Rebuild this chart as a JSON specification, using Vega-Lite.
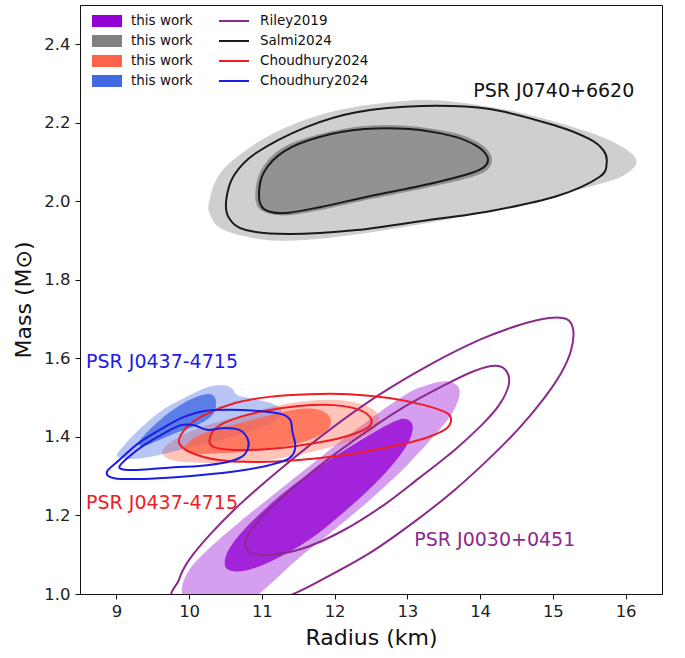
{
  "$schema": "https://vega.github.io/schema/vega-lite/v6.json",
  "width": 582,
  "height": 589,
  "autosize": {"type": "none"},
  "padding": {"left": 80, "top": 5, "right": 23, "bottom": 64},
  "background": "white",
  "config": {
    "font": "DejaVu Sans",
    "view": {"stroke": "#111", "strokeWidth": 1},
    "axis": {"grid": false, "domainColor": "#111", "tickColor": "#111", "labelColor": "#222", "titleColor": "#111", "labelFont": "DejaVu Sans", "titleFont": "DejaVu Sans", "titleFontWeight": "normal", "labelFontSize": 16.5, "titleFontSize": 22, "tickSize": 5},
    "legend": {"labelFont": "DejaVu Sans", "labelFontSize": 13.5, "labelColor": "#111", "padding": 0, "rowPadding": 0}
  },
  "datasets": {
    "fills": [
      {"set":"J0030","lvl":2,"i":0,"x":13.51,"y":1.542},{"set":"J0030","lvl":2,"i":1,"x":13.69,"y":1.530},{"set":"J0030","lvl":2,"i":2,"x":13.71,"y":1.502},{"set":"J0030","lvl":2,"i":3,"x":13.60,"y":1.456},{"set":"J0030","lvl":2,"i":4,"x":13.34,"y":1.397},{"set":"J0030","lvl":2,"i":5,"x":12.96,"y":1.321},{"set":"J0030","lvl":2,"i":6,"x":12.48,"y":1.239},{"set":"J0030","lvl":2,"i":7,"x":11.99,"y":1.163},{"set":"J0030","lvl":2,"i":8,"x":11.51,"y":1.092},{"set":"J0030","lvl":2,"i":9,"x":11.10,"y":1.023},{"set":"J0030","lvl":2,"i":10,"x":10.83,"y":0.985},{"set":"J0030","lvl":2,"i":11,"x":10.34,"y":0.959},{"set":"J0030","lvl":2,"i":12,"x":10.00,"y":0.972},{"set":"J0030","lvl":2,"i":13,"x":9.90,"y":1.010},{"set":"J0030","lvl":2,"i":14,"x":10.00,"y":1.061},{"set":"J0030","lvl":2,"i":15,"x":10.28,"y":1.117},{"set":"J0030","lvl":2,"i":16,"x":10.69,"y":1.183},{"set":"J0030","lvl":2,"i":17,"x":11.24,"y":1.265},{"set":"J0030","lvl":2,"i":18,"x":11.79,"y":1.346},{"set":"J0030","lvl":2,"i":19,"x":12.34,"y":1.425},{"set":"J0030","lvl":2,"i":20,"x":12.82,"y":1.489},{"set":"J0030","lvl":2,"i":21,"x":13.16,"y":1.525},
      {"set":"J0030","lvl":1,"i":0,"x":12.96,"y":1.446},{"set":"J0030","lvl":1,"i":1,"x":13.07,"y":1.430},{"set":"J0030","lvl":1,"i":2,"x":13.03,"y":1.392},{"set":"J0030","lvl":1,"i":3,"x":12.85,"y":1.341},{"set":"J0030","lvl":1,"i":4,"x":12.54,"y":1.278},{"set":"J0030","lvl":1,"i":5,"x":12.13,"y":1.209},{"set":"J0030","lvl":1,"i":6,"x":11.65,"y":1.138},{"set":"J0030","lvl":1,"i":7,"x":11.17,"y":1.087},{"set":"J0030","lvl":1,"i":8,"x":10.76,"y":1.059},{"set":"J0030","lvl":1,"i":9,"x":10.52,"y":1.064},{"set":"J0030","lvl":1,"i":10,"x":10.51,"y":1.099},{"set":"J0030","lvl":1,"i":11,"x":10.69,"y":1.150},{"set":"J0030","lvl":1,"i":12,"x":11.03,"y":1.214},{"set":"J0030","lvl":1,"i":13,"x":11.44,"y":1.278},{"set":"J0030","lvl":1,"i":14,"x":11.93,"y":1.341},{"set":"J0030","lvl":1,"i":15,"x":12.41,"y":1.397},{"set":"J0030","lvl":1,"i":16,"x":12.75,"y":1.433},
      {"set":"J0740","lvl":2,"i":0,"x":10.28,"y":2.003},{"set":"J0740","lvl":2,"i":1,"x":10.44,"y":2.075},{"set":"J0740","lvl":2,"i":2,"x":10.92,"y":2.148},{"set":"J0740","lvl":2,"i":3,"x":11.51,"y":2.202},{"set":"J0740","lvl":2,"i":4,"x":12.20,"y":2.238},{"set":"J0740","lvl":2,"i":5,"x":13.20,"y":2.258},{"set":"J0740","lvl":2,"i":6,"x":13.99,"y":2.245},{"set":"J0740","lvl":2,"i":7,"x":14.68,"y":2.220},{"set":"J0740","lvl":2,"i":8,"x":15.50,"y":2.176},{"set":"J0740","lvl":2,"i":9,"x":15.98,"y":2.136},{"set":"J0740","lvl":2,"i":10,"x":16.15,"y":2.100},{"set":"J0740","lvl":2,"i":11,"x":15.98,"y":2.067},{"set":"J0740","lvl":2,"i":12,"x":15.64,"y":2.044},{"set":"J0740","lvl":2,"i":13,"x":14.58,"y":1.993},{"set":"J0740","lvl":2,"i":14,"x":13.20,"y":1.942},{"set":"J0740","lvl":2,"i":15,"x":11.93,"y":1.907},{"set":"J0740","lvl":2,"i":16,"x":11.10,"y":1.901},{"set":"J0740","lvl":2,"i":17,"x":10.48,"y":1.927},{"set":"J0740","lvl":2,"i":18,"x":10.29,"y":1.965},
      {"set":"J0740","lvl":1,"i":0,"x":10.91,"y":2.016},{"set":"J0740","lvl":1,"i":1,"x":10.99,"y":2.080},{"set":"J0740","lvl":1,"i":2,"x":11.28,"y":2.136},{"set":"J0740","lvl":1,"i":3,"x":11.79,"y":2.171},{"set":"J0740","lvl":1,"i":4,"x":12.41,"y":2.192},{"set":"J0740","lvl":1,"i":5,"x":13.03,"y":2.192},{"set":"J0740","lvl":1,"i":6,"x":13.65,"y":2.174},{"set":"J0740","lvl":1,"i":7,"x":13.99,"y":2.148},{"set":"J0740","lvl":1,"i":8,"x":14.15,"y":2.118},{"set":"J0740","lvl":1,"i":9,"x":14.13,"y":2.087},{"set":"J0740","lvl":1,"i":10,"x":13.92,"y":2.064},{"set":"J0740","lvl":1,"i":11,"x":13.30,"y":2.036},{"set":"J0740","lvl":1,"i":12,"x":12.48,"y":2.005},{"set":"J0740","lvl":1,"i":13,"x":11.79,"y":1.977},{"set":"J0740","lvl":1,"i":14,"x":11.31,"y":1.964},{"set":"J0740","lvl":1,"i":15,"x":10.99,"y":1.977},
      {"set":"J0437r","lvl":2,"i":0,"x":9.63,"y":1.362},{"set":"J0437r","lvl":2,"i":1,"x":9.79,"y":1.392},{"set":"J0437r","lvl":2,"i":2,"x":10.14,"y":1.423},{"set":"J0437r","lvl":2,"i":3,"x":10.69,"y":1.453},{"set":"J0437r","lvl":2,"i":4,"x":11.24,"y":1.481},{"set":"J0437r","lvl":2,"i":5,"x":11.79,"y":1.494},{"set":"J0437r","lvl":2,"i":6,"x":12.20,"y":1.491},{"set":"J0437r","lvl":2,"i":7,"x":12.50,"y":1.474},{"set":"J0437r","lvl":2,"i":8,"x":12.61,"y":1.448},{"set":"J0437r","lvl":2,"i":9,"x":12.54,"y":1.418},{"set":"J0437r","lvl":2,"i":10,"x":12.27,"y":1.392},{"set":"J0437r","lvl":2,"i":11,"x":11.79,"y":1.367},{"set":"J0437r","lvl":2,"i":12,"x":11.24,"y":1.346},{"set":"J0437r","lvl":2,"i":13,"x":10.69,"y":1.334},{"set":"J0437r","lvl":2,"i":14,"x":10.14,"y":1.334},{"set":"J0437r","lvl":2,"i":15,"x":9.77,"y":1.341},
      {"set":"J0437r","lvl":1,"i":0,"x":9.93,"y":1.372},{"set":"J0437r","lvl":1,"i":1,"x":10.07,"y":1.397},{"set":"J0437r","lvl":1,"i":2,"x":10.34,"y":1.418},{"set":"J0437r","lvl":1,"i":3,"x":10.76,"y":1.438},{"set":"J0437r","lvl":1,"i":4,"x":11.17,"y":1.458},{"set":"J0437r","lvl":1,"i":5,"x":11.51,"y":1.471},{"set":"J0437r","lvl":1,"i":6,"x":11.79,"y":1.469},{"set":"J0437r","lvl":1,"i":7,"x":11.94,"y":1.448},{"set":"J0437r","lvl":1,"i":8,"x":11.90,"y":1.418},{"set":"J0437r","lvl":1,"i":9,"x":11.65,"y":1.392},{"set":"J0437r","lvl":1,"i":10,"x":11.24,"y":1.374},{"set":"J0437r","lvl":1,"i":11,"x":10.76,"y":1.362},{"set":"J0437r","lvl":1,"i":12,"x":10.28,"y":1.357},{"set":"J0437r","lvl":1,"i":13,"x":10.00,"y":1.359},
      {"set":"J0437b","lvl":2,"i":0,"x":9.01,"y":1.351},{"set":"J0437b","lvl":2,"i":1,"x":9.11,"y":1.379},{"set":"J0437b","lvl":2,"i":2,"x":9.31,"y":1.418},{"set":"J0437b","lvl":2,"i":3,"x":9.59,"y":1.463},{"set":"J0437b","lvl":2,"i":4,"x":9.93,"y":1.499},{"set":"J0437b","lvl":2,"i":5,"x":10.23,"y":1.525},{"set":"J0437b","lvl":2,"i":6,"x":10.44,"y":1.532},{"set":"J0437b","lvl":2,"i":7,"x":10.58,"y":1.525},{"set":"J0437b","lvl":2,"i":8,"x":10.66,"y":1.507},{"set":"J0437b","lvl":2,"i":9,"x":10.89,"y":1.497},{"set":"J0437b","lvl":2,"i":10,"x":11.13,"y":1.486},{"set":"J0437b","lvl":2,"i":11,"x":11.27,"y":1.469},{"set":"J0437b","lvl":2,"i":12,"x":11.21,"y":1.443},{"set":"J0437b","lvl":2,"i":13,"x":10.96,"y":1.423},{"set":"J0437b","lvl":2,"i":14,"x":10.62,"y":1.402},{"set":"J0437b","lvl":2,"i":15,"x":10.28,"y":1.385},{"set":"J0437b","lvl":2,"i":16,"x":9.93,"y":1.369},{"set":"J0437b","lvl":2,"i":17,"x":9.59,"y":1.354},{"set":"J0437b","lvl":2,"i":18,"x":9.24,"y":1.344},
      {"set":"J0437b","lvl":1,"i":0,"x":9.31,"y":1.387},{"set":"J0437b","lvl":1,"i":1,"x":9.48,"y":1.423},{"set":"J0437b","lvl":1,"i":2,"x":9.72,"y":1.461},{"set":"J0437b","lvl":1,"i":3,"x":10.00,"y":1.494},{"set":"J0437b","lvl":1,"i":4,"x":10.23,"y":1.509},{"set":"J0437b","lvl":1,"i":5,"x":10.34,"y":1.504},{"set":"J0437b","lvl":1,"i":6,"x":10.37,"y":1.481},{"set":"J0437b","lvl":1,"i":7,"x":10.32,"y":1.456},{"set":"J0437b","lvl":1,"i":8,"x":10.14,"y":1.433},{"set":"J0437b","lvl":1,"i":9,"x":9.86,"y":1.413},{"set":"J0437b","lvl":1,"i":10,"x":9.59,"y":1.392},{"set":"J0437b","lvl":1,"i":11,"x":9.38,"y":1.377}
    ],
    "refs": [
      {"ref":"Riley2019","lvl":2,"i":0,"x":9.835,"y":0.985},{"ref":"Riley2019","lvl":2,"i":1,"x":9.86,"y":1.036},{"ref":"Riley2019","lvl":2,"i":2,"x":10.00,"y":1.087},{"ref":"Riley2019","lvl":2,"i":3,"x":10.28,"y":1.150},{"ref":"Riley2019","lvl":2,"i":4,"x":10.69,"y":1.227},{"ref":"Riley2019","lvl":2,"i":5,"x":11.24,"y":1.316},{"ref":"Riley2019","lvl":2,"i":6,"x":11.93,"y":1.418},{"ref":"Riley2019","lvl":2,"i":7,"x":12.61,"y":1.507},{"ref":"Riley2019","lvl":2,"i":8,"x":13.30,"y":1.583},{"ref":"Riley2019","lvl":2,"i":9,"x":13.99,"y":1.647},{"ref":"Riley2019","lvl":2,"i":10,"x":14.54,"y":1.685},{"ref":"Riley2019","lvl":2,"i":11,"x":14.95,"y":1.703},{"ref":"Riley2019","lvl":2,"i":12,"x":15.19,"y":1.700},{"ref":"Riley2019","lvl":2,"i":13,"x":15.28,"y":1.672},{"ref":"Riley2019","lvl":2,"i":14,"x":15.25,"y":1.621},{"ref":"Riley2019","lvl":2,"i":15,"x":15.12,"y":1.565},{"ref":"Riley2019","lvl":2,"i":16,"x":14.88,"y":1.499},{"ref":"Riley2019","lvl":2,"i":17,"x":14.54,"y":1.423},{"ref":"Riley2019","lvl":2,"i":18,"x":14.13,"y":1.346},{"ref":"Riley2019","lvl":2,"i":19,"x":13.65,"y":1.265},{"ref":"Riley2019","lvl":2,"i":20,"x":13.09,"y":1.183},{"ref":"Riley2019","lvl":2,"i":21,"x":12.48,"y":1.104},{"ref":"Riley2019","lvl":2,"i":22,"x":11.79,"y":1.033},{"ref":"Riley2019","lvl":2,"i":23,"x":11.31,"y":0.990},{"ref":"Riley2019","lvl":2,"i":24,"x":10.96,"y":0.972},
      {"ref":"Riley2019","lvl":1,"i":0,"x":14.22,"y":1.581},{"ref":"Riley2019","lvl":1,"i":1,"x":14.37,"y":1.565},{"ref":"Riley2019","lvl":1,"i":2,"x":14.39,"y":1.530},{"ref":"Riley2019","lvl":1,"i":3,"x":14.26,"y":1.481},{"ref":"Riley2019","lvl":1,"i":4,"x":14.02,"y":1.430},{"ref":"Riley2019","lvl":1,"i":5,"x":13.65,"y":1.367},{"ref":"Riley2019","lvl":1,"i":6,"x":13.16,"y":1.295},{"ref":"Riley2019","lvl":1,"i":7,"x":12.68,"y":1.227},{"ref":"Riley2019","lvl":1,"i":8,"x":12.13,"y":1.163},{"ref":"Riley2019","lvl":1,"i":9,"x":11.58,"y":1.117},{"ref":"Riley2019","lvl":1,"i":10,"x":11.10,"y":1.099},{"ref":"Riley2019","lvl":1,"i":11,"x":10.83,"y":1.107},{"ref":"Riley2019","lvl":1,"i":12,"x":10.78,"y":1.138},{"ref":"Riley2019","lvl":1,"i":13,"x":10.94,"y":1.183},{"ref":"Riley2019","lvl":1,"i":14,"x":11.24,"y":1.239},{"ref":"Riley2019","lvl":1,"i":15,"x":11.72,"y":1.316},{"ref":"Riley2019","lvl":1,"i":16,"x":12.27,"y":1.392},{"ref":"Riley2019","lvl":1,"i":17,"x":12.89,"y":1.469},{"ref":"Riley2019","lvl":1,"i":18,"x":13.51,"y":1.532},{"ref":"Riley2019","lvl":1,"i":19,"x":13.92,"y":1.568},
      {"ref":"Salmi2024","lvl":2,"i":0,"x":10.51,"y":2.003},{"ref":"Salmi2024","lvl":2,"i":1,"x":10.62,"y":2.067},{"ref":"Salmi2024","lvl":2,"i":2,"x":10.92,"y":2.123},{"ref":"Salmi2024","lvl":2,"i":3,"x":11.61,"y":2.189},{"ref":"Salmi2024","lvl":2,"i":4,"x":12.30,"y":2.227},{"ref":"Salmi2024","lvl":2,"i":5,"x":13.20,"y":2.243},{"ref":"Salmi2024","lvl":2,"i":6,"x":14.13,"y":2.235},{"ref":"Salmi2024","lvl":2,"i":7,"x":15.05,"y":2.192},{"ref":"Salmi2024","lvl":2,"i":8,"x":15.50,"y":2.159},{"ref":"Salmi2024","lvl":2,"i":9,"x":15.69,"y":2.131},{"ref":"Salmi2024","lvl":2,"i":10,"x":15.74,"y":2.100},{"ref":"Salmi2024","lvl":2,"i":11,"x":15.64,"y":2.062},{"ref":"Salmi2024","lvl":2,"i":12,"x":15.05,"y":2.013},{"ref":"Salmi2024","lvl":2,"i":13,"x":14.13,"y":1.975},{"ref":"Salmi2024","lvl":2,"i":14,"x":13.20,"y":1.950},{"ref":"Salmi2024","lvl":2,"i":15,"x":12.30,"y":1.927},{"ref":"Salmi2024","lvl":2,"i":16,"x":11.38,"y":1.917},{"ref":"Salmi2024","lvl":2,"i":17,"x":10.78,"y":1.927},{"ref":"Salmi2024","lvl":2,"i":18,"x":10.55,"y":1.957},
      {"ref":"Salmi2024","lvl":1,"i":0,"x":10.96,"y":2.016},{"ref":"Salmi2024","lvl":1,"i":1,"x":11.03,"y":2.075},{"ref":"Salmi2024","lvl":1,"i":2,"x":11.31,"y":2.128},{"ref":"Salmi2024","lvl":1,"i":3,"x":11.79,"y":2.164},{"ref":"Salmi2024","lvl":1,"i":4,"x":12.41,"y":2.184},{"ref":"Salmi2024","lvl":1,"i":5,"x":13.03,"y":2.184},{"ref":"Salmi2024","lvl":1,"i":6,"x":13.62,"y":2.166},{"ref":"Salmi2024","lvl":1,"i":7,"x":13.95,"y":2.141},{"ref":"Salmi2024","lvl":1,"i":8,"x":14.10,"y":2.113},{"ref":"Salmi2024","lvl":1,"i":9,"x":14.07,"y":2.090},{"ref":"Salmi2024","lvl":1,"i":10,"x":13.88,"y":2.072},{"ref":"Salmi2024","lvl":1,"i":11,"x":13.30,"y":2.044},{"ref":"Salmi2024","lvl":1,"i":12,"x":12.48,"y":2.013},{"ref":"Salmi2024","lvl":1,"i":13,"x":11.79,"y":1.985},{"ref":"Salmi2024","lvl":1,"i":14,"x":11.31,"y":1.970},{"ref":"Salmi2024","lvl":1,"i":15,"x":11.03,"y":1.980},
      {"ref":"Choudhury2024 red","lvl":2,"i":0,"x":9.862,"y":1.385},{"ref":"Choudhury2024 red","lvl":2,"i":1,"x":9.96,"y":1.423},{"ref":"Choudhury2024 red","lvl":2,"i":2,"x":10.21,"y":1.456},{"ref":"Choudhury2024 red","lvl":2,"i":3,"x":10.62,"y":1.486},{"ref":"Choudhury2024 red","lvl":2,"i":4,"x":11.10,"y":1.502},{"ref":"Choudhury2024 red","lvl":2,"i":5,"x":11.65,"y":1.509},{"ref":"Choudhury2024 red","lvl":2,"i":6,"x":12.20,"y":1.509},{"ref":"Choudhury2024 red","lvl":2,"i":7,"x":12.75,"y":1.499},{"ref":"Choudhury2024 red","lvl":2,"i":8,"x":13.23,"y":1.481},{"ref":"Choudhury2024 red","lvl":2,"i":9,"x":13.54,"y":1.461},{"ref":"Choudhury2024 red","lvl":2,"i":10,"x":13.60,"y":1.441},{"ref":"Choudhury2024 red","lvl":2,"i":11,"x":13.51,"y":1.418},{"ref":"Choudhury2024 red","lvl":2,"i":12,"x":13.16,"y":1.392},{"ref":"Choudhury2024 red","lvl":2,"i":13,"x":12.68,"y":1.372},{"ref":"Choudhury2024 red","lvl":2,"i":14,"x":12.13,"y":1.354},{"ref":"Choudhury2024 red","lvl":2,"i":15,"x":11.51,"y":1.341},{"ref":"Choudhury2024 red","lvl":2,"i":16,"x":10.96,"y":1.336},{"ref":"Choudhury2024 red","lvl":2,"i":17,"x":10.41,"y":1.341},{"ref":"Choudhury2024 red","lvl":2,"i":18,"x":10.04,"y":1.359},
      {"ref":"Choudhury2024 red","lvl":1,"i":0,"x":10.28,"y":1.392},{"ref":"Choudhury2024 red","lvl":1,"i":1,"x":10.37,"y":1.423},{"ref":"Choudhury2024 red","lvl":1,"i":2,"x":10.62,"y":1.446},{"ref":"Choudhury2024 red","lvl":1,"i":3,"x":11.03,"y":1.466},{"ref":"Choudhury2024 red","lvl":1,"i":4,"x":11.51,"y":1.479},{"ref":"Choudhury2024 red","lvl":1,"i":5,"x":11.99,"y":1.481},{"ref":"Choudhury2024 red","lvl":1,"i":6,"x":12.34,"y":1.469},{"ref":"Choudhury2024 red","lvl":1,"i":7,"x":12.50,"y":1.446},{"ref":"Choudhury2024 red","lvl":1,"i":8,"x":12.45,"y":1.423},{"ref":"Choudhury2024 red","lvl":1,"i":9,"x":12.13,"y":1.400},{"ref":"Choudhury2024 red","lvl":1,"i":10,"x":11.65,"y":1.382},{"ref":"Choudhury2024 red","lvl":1,"i":11,"x":11.10,"y":1.369},{"ref":"Choudhury2024 red","lvl":1,"i":12,"x":10.62,"y":1.367},{"ref":"Choudhury2024 red","lvl":1,"i":13,"x":10.34,"y":1.374},
      {"ref":"Choudhury2024 blue","lvl":2,"i":0,"x":8.87,"y":1.311},{"ref":"Choudhury2024 blue","lvl":2,"i":1,"x":9.04,"y":1.341},{"ref":"Choudhury2024 blue","lvl":2,"i":2,"x":9.31,"y":1.385},{"ref":"Choudhury2024 blue","lvl":2,"i":3,"x":9.66,"y":1.425},{"ref":"Choudhury2024 blue","lvl":2,"i":4,"x":9.93,"y":1.451},{"ref":"Choudhury2024 blue","lvl":2,"i":5,"x":10.21,"y":1.466},{"ref":"Choudhury2024 blue","lvl":2,"i":6,"x":10.55,"y":1.469},{"ref":"Choudhury2024 blue","lvl":2,"i":7,"x":10.96,"y":1.466},{"ref":"Choudhury2024 blue","lvl":2,"i":8,"x":11.27,"y":1.458},{"ref":"Choudhury2024 blue","lvl":2,"i":9,"x":11.39,"y":1.443},{"ref":"Choudhury2024 blue","lvl":2,"i":10,"x":11.42,"y":1.413},{"ref":"Choudhury2024 blue","lvl":2,"i":11,"x":11.46,"y":1.374},{"ref":"Choudhury2024 blue","lvl":2,"i":12,"x":11.38,"y":1.346},{"ref":"Choudhury2024 blue","lvl":2,"i":13,"x":11.10,"y":1.328},{"ref":"Choudhury2024 blue","lvl":2,"i":14,"x":10.76,"y":1.316},{"ref":"Choudhury2024 blue","lvl":2,"i":15,"x":10.34,"y":1.306},{"ref":"Choudhury2024 blue","lvl":2,"i":16,"x":9.86,"y":1.298},{"ref":"Choudhury2024 blue","lvl":2,"i":17,"x":9.38,"y":1.293},{"ref":"Choudhury2024 blue","lvl":2,"i":18,"x":8.97,"y":1.295},
      {"ref":"Choudhury2024 blue","lvl":1,"i":0,"x":9.04,"y":1.323},{"ref":"Choudhury2024 blue","lvl":1,"i":1,"x":9.17,"y":1.349},{"ref":"Choudhury2024 blue","lvl":1,"i":2,"x":9.38,"y":1.379},{"ref":"Choudhury2024 blue","lvl":1,"i":3,"x":9.66,"y":1.410},{"ref":"Choudhury2024 blue","lvl":1,"i":4,"x":9.89,"y":1.430},{"ref":"Choudhury2024 blue","lvl":1,"i":5,"x":10.07,"y":1.430},{"ref":"Choudhury2024 blue","lvl":1,"i":6,"x":10.25,"y":1.418},{"ref":"Choudhury2024 blue","lvl":1,"i":7,"x":10.48,"y":1.423},{"ref":"Choudhury2024 blue","lvl":1,"i":8,"x":10.69,"y":1.418},{"ref":"Choudhury2024 blue","lvl":1,"i":9,"x":10.80,"y":1.397},{"ref":"Choudhury2024 blue","lvl":1,"i":10,"x":10.81,"y":1.372},{"ref":"Choudhury2024 blue","lvl":1,"i":11,"x":10.72,"y":1.349},{"ref":"Choudhury2024 blue","lvl":1,"i":12,"x":10.48,"y":1.334},{"ref":"Choudhury2024 blue","lvl":1,"i":13,"x":10.14,"y":1.326},{"ref":"Choudhury2024 blue","lvl":1,"i":14,"x":9.79,"y":1.323},{"ref":"Choudhury2024 blue","lvl":1,"i":15,"x":9.45,"y":1.318},{"ref":"Choudhury2024 blue","lvl":1,"i":16,"x":9.17,"y":1.316}
    ],
    "labels": [
      {"key":"a","label":"PSR J0740+6620","x":13.906,"y":2.282},
      {"key":"b","label":"PSR J0437-4715","x":8.583,"y":1.592},
      {"key":"c","label":"PSR J0437-4715","x":8.583,"y":1.232},
      {"key":"d","label":"PSR J0030+0451","x":13.095,"y":1.1375}
    ]
  },
  "encoding": {
    "x": {"field": "x", "type": "quantitative", "scale": {"domain": [8.5, 16.5], "nice": false, "zero": false}, "axis": {"title": "Radius (km)", "values": [9,10,11,12,13,14,15,16], "labelPadding": 4, "titlePadding": 8}},
    "y": {"field": "y", "type": "quantitative", "scale": {"domain": [1.0, 2.5], "nice": false, "zero": false}, "axis": {"title": "Mass (M⊙)", "values": [1.0,1.2,1.4,1.6,1.8,2.0,2.2,2.4], "format": ".1f", "labelPadding": 5, "titlePadding": 8}}
  },
  "layer": [
    {
      "data": {"name": "fills"},
      "transform": [{"filter": "datum.lvl == 2"}],
      "mark": {"type": "line", "interpolate": "cardinal-closed", "fillOpacity": 0.38, "strokeWidth": 0, "clip": true},
      "encoding": {
        "fill": {"field": "set", "type": "nominal", "scale": {"domain": ["J0030","J0740","J0437r","J0437b"], "range": ["#9400d3","#808080","#ff6347","#4169e1"]},
          "legend": {"orient": "none", "legendX": 12, "legendY": 6, "title": null, "labelExpr": "'this work'", "symbolType": "M-1,-0.4H1V0.4H-1Z", "symbolSize": 900, "symbolOpacity": 1, "symbolFillOpacity": 1, "symbolStrokeWidth": 0, "clipHeight": 20, "labelOffset": 9}},
        "detail": {"field": "lvl"},
        "order": {"field": "i", "type": "quantitative"}
      }
    },
    {
      "data": {"name": "fills"},
      "transform": [{"filter": "datum.lvl == 1"}],
      "mark": {"type": "line", "interpolate": "cardinal-closed", "fillOpacity": 0.78, "strokeWidth": 0, "clip": true},
      "encoding": {
        "fill": {"field": "set", "type": "nominal"},
        "detail": {"field": "lvl"},
        "order": {"field": "i", "type": "quantitative"}
      }
    },
    {
      "data": {"name": "refs"},
      "mark": {"type": "line", "interpolate": "cardinal-closed", "strokeWidth": 2, "clip": true},
      "encoding": {
        "stroke": {"field": "ref", "type": "nominal", "scale": {"domain": ["Riley2019","Salmi2024","Choudhury2024 red","Choudhury2024 blue"], "range": ["#8b2a8b","#1a1a1a","#ee1c24","#1c1ce6"]},
          "legend": {"orient": "none", "legendX": 138, "legendY": 6, "title": null, "labelExpr": "split(datum.label, ' ')[0]", "symbolType": "stroke", "symbolSize": 900, "symbolStrokeWidth": 2, "clipHeight": 20, "labelOffset": 10}},
        "detail": {"field": "lvl"},
        "order": {"field": "i", "type": "quantitative"}
      }
    },
    {
      "data": {"name": "labels"},
      "mark": {"type": "text", "align": "left", "baseline": "middle", "fontSize": 19, "font": "DejaVu Sans"},
      "encoding": {
        "text": {"field": "label"},
        "color": {"field": "key", "type": "nominal", "scale": {"domain": ["a","b","c","d"], "range": ["#111111","#1c1ce6","#ee1c24","#8b2a8b"]}, "legend": null}
      }
    }
  ]
}
